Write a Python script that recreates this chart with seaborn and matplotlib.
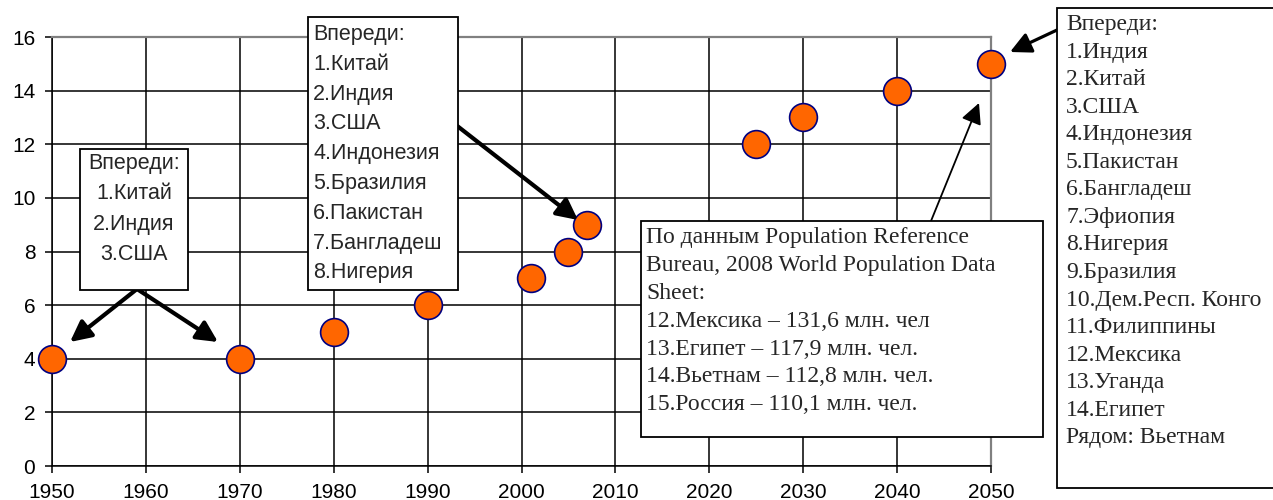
import matplotlib
matplotlib.use("Agg")
import matplotlib.pyplot as plt
import seaborn as sns
from matplotlib.patches import Rectangle, FancyArrowPatch

# ---- data ----
years = [1950, 1970, 1980, 1990, 2001, 2005, 2007, 2025, 2030, 2040, 2050]
ranks = [4, 4, 5, 6, 7, 8, 9, 12, 13, 14, 15]
x_ticks = [1950, 1960, 1970, 1980, 1990, 2000, 2010, 2020, 2030, 2040, 2050]
y_ticks = [0, 2, 4, 6, 8, 10, 12, 14, 16]

box1_lines = ["Впереди:", "1.Китай", "2.Индия", "3.США"]
box2_lines = ["Впереди:", "1.Китай", "2.Индия", "3.США", "4.Индонезия",
              "5.Бразилия", "6.Пакистан", "7.Бангладеш", "8.Нигерия"]
box3_lines = ["По данным Population Reference",
              "Bureau, 2008 World Population Data",
              "Sheet:",
              "12.Мексика – 131,6 млн. чел",
              "13.Египет – 117,9 млн. чел.",
              "14.Вьетнам – 112,8 млн. чел.",
              "15.Россия – 110,1 млн. чел."]
box4_lines = ["Впереди:", "1.Индия", "2.Китай", "3.США", "4.Индонезия",
              "5.Пакистан", "6.Бангладеш", "7.Эфиопия", "8.Нигерия",
              "9.Бразилия", "10.Дем.Респ. Конго", "11.Филиппины",
              "12.Мексика", "13.Уганда", "14.Египет", "Рядом: Вьетнам"]

sns.set_style("white")
plt.rcParams['font.family'] = ['Liberation Sans', 'DejaVu Sans']
SERIF = ['Liberation Serif', 'DejaVu Serif']

W, H = 1273, 500
fig = plt.figure(figsize=(W / 100, H / 100), dpi=100)
ax = fig.add_axes([52 / W, 34 / H, 939 / W, 429 / H])

sns.scatterplot(x=years, y=ranks, ax=ax, s=400, color="#FF6600",
                edgecolor="#000080", linewidth=1.2, zorder=5, clip_on=False)

ax.set_xlim(1950, 2050)
ax.set_ylim(0, 16)
ax.set_xticks(x_ticks)
ax.set_yticks(y_ticks)
ax.grid(True, color="black", linewidth=1.1)
ax.set_axisbelow(True)
ax.tick_params(axis="both", bottom=True, left=True, direction="out",
               length=5, width=1.1, color="black", labelsize=15,
               labelcolor="black")
ax.tick_params(axis="x", pad=7)
ax.tick_params(axis="y", pad=7)
for side in ["left", "bottom"]:
    ax.spines[side].set_color("black")
    ax.spines[side].set_linewidth(1.1)
for side in ["top", "right"]:
    ax.spines[side].set_color("#808080")
    ax.spines[side].set_linewidth(1.6)
ax.set_xlabel("")
ax.set_ylabel("")


def px(x, y):
    return (x / W, 1 - y / H)


def box(x0, y0, x1, y1):
    r = Rectangle((x0 / W, 1 - y1 / H), (x1 - x0) / W, (y1 - y0) / H,
                  transform=fig.transFigure, facecolor="white",
                  edgecolor="black", linewidth=1.3, zorder=10)
    fig.add_artist(r)


def arrow(tail, tip, lw, ms):
    fig.add_artist(FancyArrowPatch(
        px(*tail), px(*tip), transform=fig.transFigure,
        arrowstyle="-|>,head_length=0.9,head_width=0.45",
        mutation_scale=ms, linewidth=lw, color="black",
        shrinkA=0, shrinkB=0, zorder=9))


# boxes
box(80, 149, 188, 290)
box(308, 17, 458, 290)
box(641, 221, 1043, 437)
box(1057, 8, 1280, 488)

fig.text(*px(134, 153), "\n".join(box1_lines), ha="center", va="top",
         fontsize=15.5, linespacing=1.58, zorder=11)
fig.text(*px(313, 24), "\n".join(box2_lines), ha="left", va="top",
         fontsize=15.5, linespacing=1.55, zorder=11)
fig.text(*px(646, 227), "\n".join(box3_lines), ha="left", va="top",
         fontsize=17, linespacing=1.43, family=SERIF, zorder=11)
fig.text(*px(1066, 14), "\n".join(box4_lines), ha="left", va="top",
         fontsize=17, linespacing=1.41, family=SERIF, zorder=11)

# arrows
arrow((137, 289), (70, 342), 3.0, 14)
arrow((137, 289), (218, 342), 3.0, 14)
arrow((456, 125), (578, 220), 3.0, 14)
arrow((931, 221), (979, 103), 1.3, 14)
arrow((1057, 30), (1010, 52), 2.3, 14)

fig.savefig("out.png", dpi=100)
